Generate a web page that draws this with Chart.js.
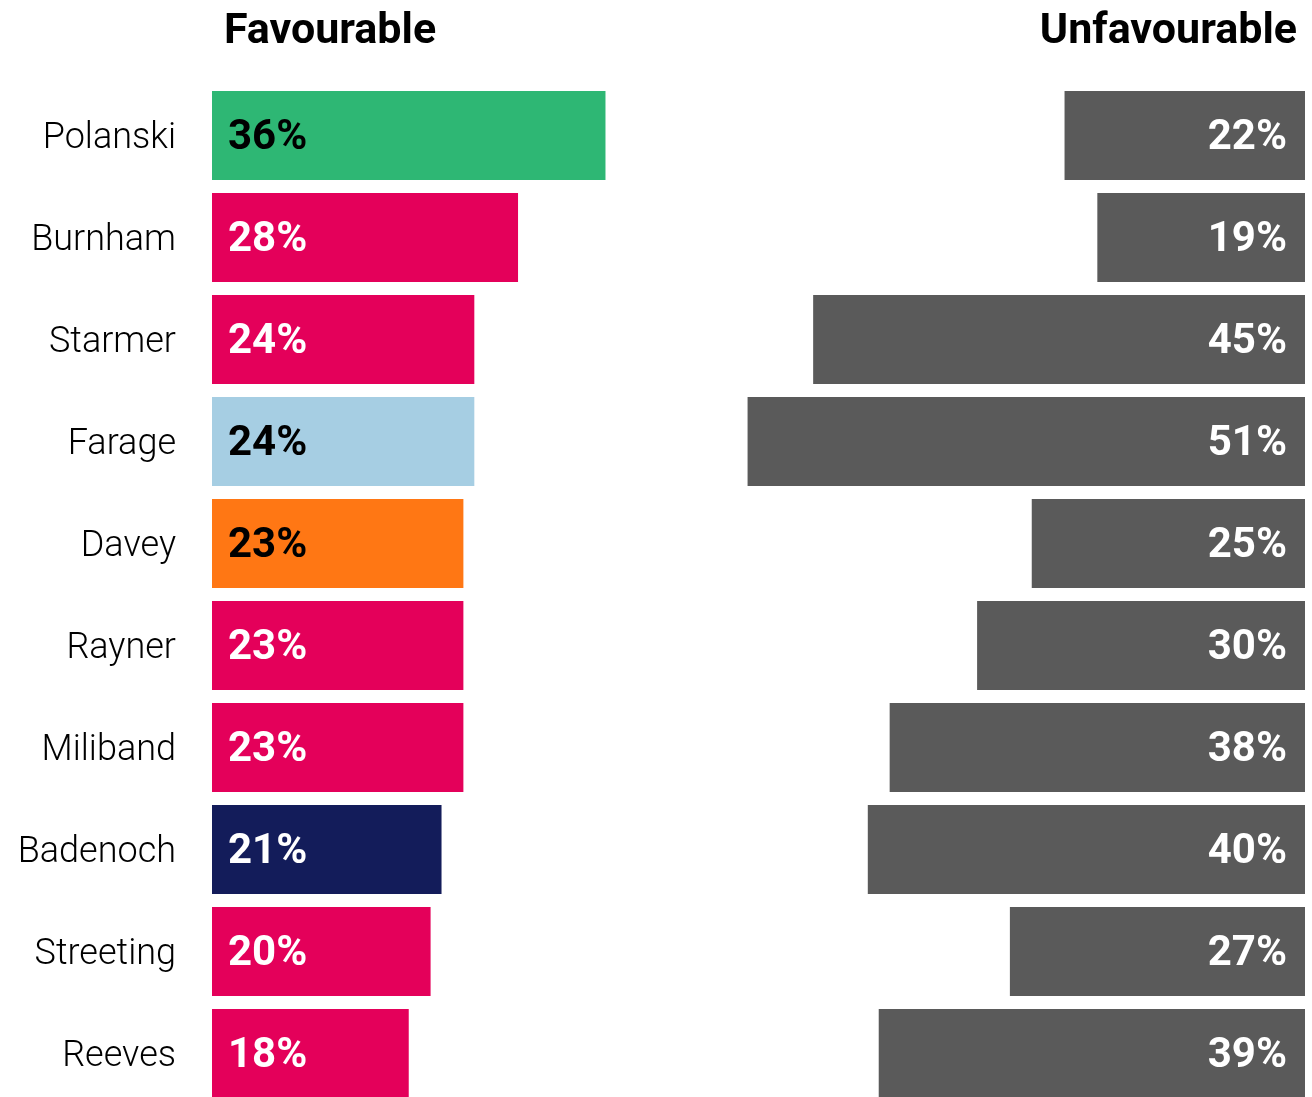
<!DOCTYPE html>
<html lang="en">
<head>
    <meta charset="UTF-8">
    <title>Favourable / Unfavourable</title>
    <style>
        html, body { margin: 0; padding: 0; background: #fff; overflow: hidden; }
        /* canvas runs past the window: the y-axis label padding eats ~58px at the bottom */
        #wrap { position: relative; width: 1312px; height: 1162px; }
    </style>
</head>
<body>
    <div id="wrap"><canvas id="chart"></canvas></div>

    <script src="https://cdn.jsdelivr.net/npm/chart.js"></script>
    <script>
        const names = ['Polanski', 'Burnham', 'Starmer', 'Farage', 'Davey', 'Rayner', 'Miliband', 'Badenoch', 'Streeting', 'Reeves'];
        const favourable = [36, 28, 24, 24, 23, 23, 23, 21, 20, 18];
        const unfavourable = [22, 19, 45, 51, 25, 30, 38, 40, 27, 39];
        const favColours = ['#2eb774', '#e4005a', '#e4005a', '#a6cee3', '#ff7714', '#e4005a', '#e4005a', '#131c5a', '#e4005a', '#e4005a'];
        const favTextColours = ['#000', '#fff', '#fff', '#000', '#000', '#fff', '#fff', '#fff', '#fff', '#fff'];
        const unfavColour = '#5a5a5a';

        const FONT = 'Roboto, "Noto Sans", sans-serif';

        // headings + the % figures inside the bars
        const labelsPlugin = {
            id: 'barLabels',
            afterDatasetsDraw(chart) {
                const ctx = chart.ctx;
                const area = chart.chartArea;
                ctx.save();
                ctx.textBaseline = 'middle';
                ctx.font = 'bold 42px ' + FONT;

                chart.getDatasetMeta(0).data.forEach((bar, i) => {
                    ctx.fillStyle = favTextColours[i];
                    ctx.textAlign = 'left';
                    ctx.fillText(favourable[i] + '%', bar.base + 16, bar.y + 3);
                });
                chart.getDatasetMeta(1).data.forEach((bar, i) => {
                    ctx.fillStyle = '#fff';
                    ctx.textAlign = 'right';
                    ctx.fillText(unfavourable[i] + '%', bar.base - 18, bar.y + 3);
                });

                ctx.fillStyle = '#000';
                ctx.font = 'bold 43px ' + FONT;
                ctx.textBaseline = 'alphabetic';
                ctx.textAlign = 'center';
                ctx.fillText('Favourable', area.left + 118, 43);
                ctx.textAlign = 'right';
                ctx.fillText('Unfavourable', area.right - 8, 43);
                ctx.restore();
            }
        };

        new Chart(document.getElementById('chart'), {
            type: 'bar',
            data: {
                labels: names,
                datasets: [
                    {
                        label: 'Favourable',
                        data: favourable,
                        backgroundColor: favColours,
                        xAxisID: 'x',
                        grouped: false,
                        barPercentage: 0.873,
                        categoryPercentage: 1
                    },
                    {
                        label: 'Unfavourable',
                        data: unfavourable,
                        backgroundColor: unfavColour,
                        xAxisID: 'x2',
                        grouped: false,
                        barPercentage: 0.873,
                        categoryPercentage: 1
                    }
                ]
            },
            options: {
                indexAxis: 'y',
                responsive: true,
                maintainAspectRatio: false,
                animation: false,
                layout: { padding: { top: 84.5, bottom: 0, right: 7, left: 0 } },
                plugins: {
                    legend: { display: false },
                    tooltip: { enabled: false }
                },
                scales: {
                    x: { display: false, min: 0, max: 100 },
                    x2: { display: false, min: 0, max: 100, reverse: true },
                    y: {
                        grid: { display: false, drawTicks: false },
                        border: { display: false },
                        ticks: {
                            color: '#000',
                            padding: 36,
                            labelOffset: 4,
                            font: { family: FONT, size: 36, weight: '300' }
                        },
                        afterFit(scale) { scale.width = 212; }
                    }
                }
            },
            plugins: [labelsPlugin]
        });
    </script>
</body>
</html>
